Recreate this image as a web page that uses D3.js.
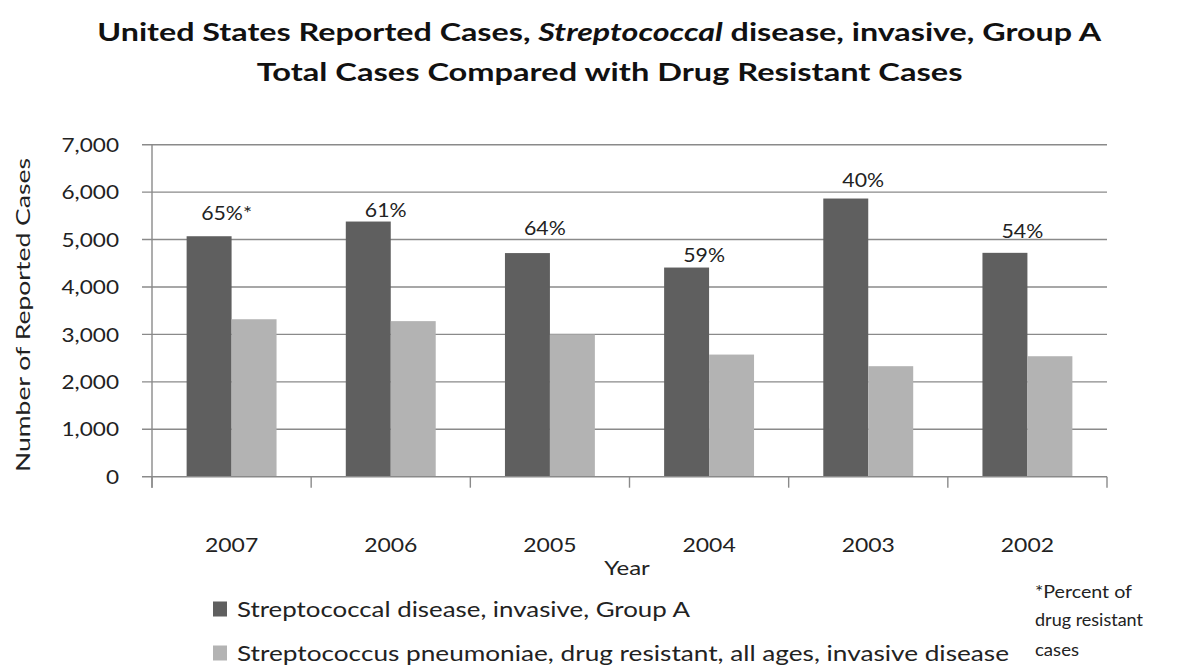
<!DOCTYPE html>
<html>
<head>
<meta charset="utf-8">
<script src="https://cdn.jsdelivr.net/npm/d3@7"></script>
<style>
  html, body { margin: 0; padding: 0; background: #fff; }
  svg { display: block; font-family: Lato, "Open Sans", sans-serif; }
</style>
</head>
<body>
<svg id="chart" width="1199" height="667"></svg>
<script>
// ---- data ----
const years = ["2007", "2006", "2005", "2004", "2003", "2002"];
const groupA = [5070, 5380, 4715, 4410, 5865, 4720];
const drugResistant = [3320, 3280, 3000, 2575, 2330, 2540];
const pctLabels = ["65%*", "61%", "64%", "59%", "40%", "54%"];
const pctLabelLevel = [5410, 5480, 5100, 4530, 6100, 5040];
const seriesNames = ["Streptococcal disease, invasive, Group A",
                     "Streptococcus pneumoniae, drug resistant, all ages, invasive disease"];
const yTicks = [0, 1000, 2000, 3000, 4000, 5000, 6000, 7000];
const noteLines = ["*Percent of", "drug resistant", "cases"];

(function () {
// ---- layout ----
const svg = d3.select("#chart");
const pLeft = 152, pRight = 1107, pTop = 144.7, pBottom = 476.7;
const colors = ["#5f5f5f", "#b3b3b3"];
const gridColor = "#8a8a8a";

const x0 = d3.scaleBand().domain(years).range([pLeft, pRight]).padding(0);
const x1 = d3.scaleBand().domain([0, 1]).range([0, x0.bandwidth()]).paddingInner(0).paddingOuter(0.77);
const y = d3.scaleLinear().domain([0, 7000]).range([pBottom, pTop]);

function fitW(sel, w) { sel.attr("textLength", w).attr("lengthAdjust", "spacingAndGlyphs"); }
function stretch(sel, k) {
  sel.each(function () {
    const l = this.getComputedTextLength();
    d3.select(this).attr("textLength", l * k).attr("lengthAdjust", "spacingAndGlyphs");
  });
}

// ---- title ----
const t1 = svg.append("text").attr("font-size", 25).attr("font-weight", "bold").attr("fill", "#111");
t1.append("tspan").text("United States Reported Cases, ");
t1.append("tspan").attr("font-style", "italic").text("Streptococcal");
t1.append("tspan").text(" disease, invasive, Group A");
{
  const w = t1.node().getComputedTextLength();
  t1.attr("transform", `translate(97.3,41) scale(${1004 / w},1)`);
}
const t2 = svg.append("text").attr("font-size", 25).attr("font-weight", "bold").attr("fill", "#111")
  .text("Total Cases Compared with Drug Resistant Cases");
{
  const w = t2.node().getComputedTextLength();
  t2.attr("transform", `translate(256.7,80.7) scale(${706 / w},1)`);
}

// ---- gridlines ----
svg.append("g").selectAll("line").data(yTicks.filter(d => d > 0)).join("line")
  .attr("x1", pLeft - 10).attr("x2", pRight)
  .attr("y1", d => y(d)).attr("y2", d => y(d))
  .attr("stroke", gridColor).attr("stroke-width", 1.4);

// ---- bars ----
const rows = years.map((yr, i) => ({ year: yr, vals: [groupA[i], drugResistant[i]] }));
svg.append("g").selectAll("g").data(rows).join("g")
  .attr("transform", d => `translate(${x0(d.year)},0)`)
  .selectAll("rect").data(d => d.vals.map((v, k) => ({ k, v }))).join("rect")
  .attr("x", d => x1(d.k)).attr("width", x1.bandwidth())
  .attr("y", d => y(d.v)).attr("height", d => y(0) - y(d.v))
  .attr("fill", d => colors[d.k]);

// ---- y axis ----
const yAxis = svg.append("g").attr("transform", `translate(${pLeft},0)`)
  .call(d3.axisLeft(y).tickValues(yTicks).tickFormat(d3.format(",")).tickSize(0).tickPadding(33));
yAxis.select(".domain").remove();
yAxis.selectAll("text").attr("font-size", 18.5).attr("fill", "#222").attr("font-family", "Lato")
  .attr("dy", "0.36em").call(stretch, 1.22);
svg.append("line").attr("x1", pLeft).attr("x2", pLeft).attr("y1", pTop).attr("y2", pBottom + 11)
  .attr("stroke", gridColor).attr("stroke-width", 1.4);

// ---- x axis ----
const xAxis = svg.append("g").attr("transform", `translate(0,${pBottom})`)
  .call(d3.axisBottom(x0).tickSize(0).tickPadding(0));
xAxis.select(".domain").remove();
xAxis.selectAll("text").attr("font-size", 18.5).attr("fill", "#222").attr("font-family", "Lato")
  .attr("y", 75.5).attr("dy", null).call(stretch, 1.24);
svg.append("line").attr("x1", pLeft - 10).attr("x2", pRight).attr("y1", pBottom).attr("y2", pBottom)
  .attr("stroke", gridColor).attr("stroke-width", 1.4);
svg.append("g").selectAll("line").data(years.map(d => x0(d)).concat([x0.range()[1]])).join("line")
  .attr("x1", d => d).attr("x2", d => d).attr("y1", pBottom).attr("y2", pBottom + 11)
  .attr("stroke", gridColor).attr("stroke-width", 1.4);

// ---- percent labels ----
svg.append("g").selectAll("text").data(years).join("text")
  .attr("x", (d, i) => x0(d) + x0.bandwidth() / 2 - 5)
  .attr("y", (d, i) => y(pctLabelLevel[i]))
  .attr("text-anchor", "middle").attr("font-size", 18.5).attr("fill", "#222")
  .text((d, i) => pctLabels[i]).call(stretch, 1.15);

// ---- axis titles ----
svg.append("text").attr("transform", "translate(30,315) rotate(-90)")
  .attr("text-anchor", "middle").attr("font-size", 20).attr("fill", "#222")
  .text("Number of Reported Cases").call(fitW, 314);
svg.append("text").attr("x", 627).attr("y", 575)
  .attr("text-anchor", "middle").attr("font-size", 20).attr("fill", "#222")
  .text("Year").call(stretch, 1.2);

// ---- legend ----
const legendW = [453, 772];
const lg = svg.append("g").selectAll("g").data(seriesNames).join("g")
  .attr("transform", (d, i) => `translate(213,${617 + i * 44})`);
lg.append("rect").attr("x", 0).attr("y", -15.5).attr("width", 14).attr("height", 15)
  .attr("fill", (d, i) => colors[i]);
lg.append("text").attr("x", 24).attr("y", 0).attr("font-size", 21).attr("fill", "#222")
  .text(d => d).each(function (d, i) { d3.select(this).call(fitW, legendW[i]); });

// ---- note ----
const noteW = [97, 108, 44];
svg.append("g").selectAll("text").data(noteLines).join("text")
  .attr("x", 1035).attr("y", (d, i) => [598, 626, 656][i])
  .attr("font-size", 17).attr("fill", "#222")
  .text(d => d).each(function (d, i) { d3.select(this).call(fitW, noteW[i]); });
})();
</script>
</body>
</html>
